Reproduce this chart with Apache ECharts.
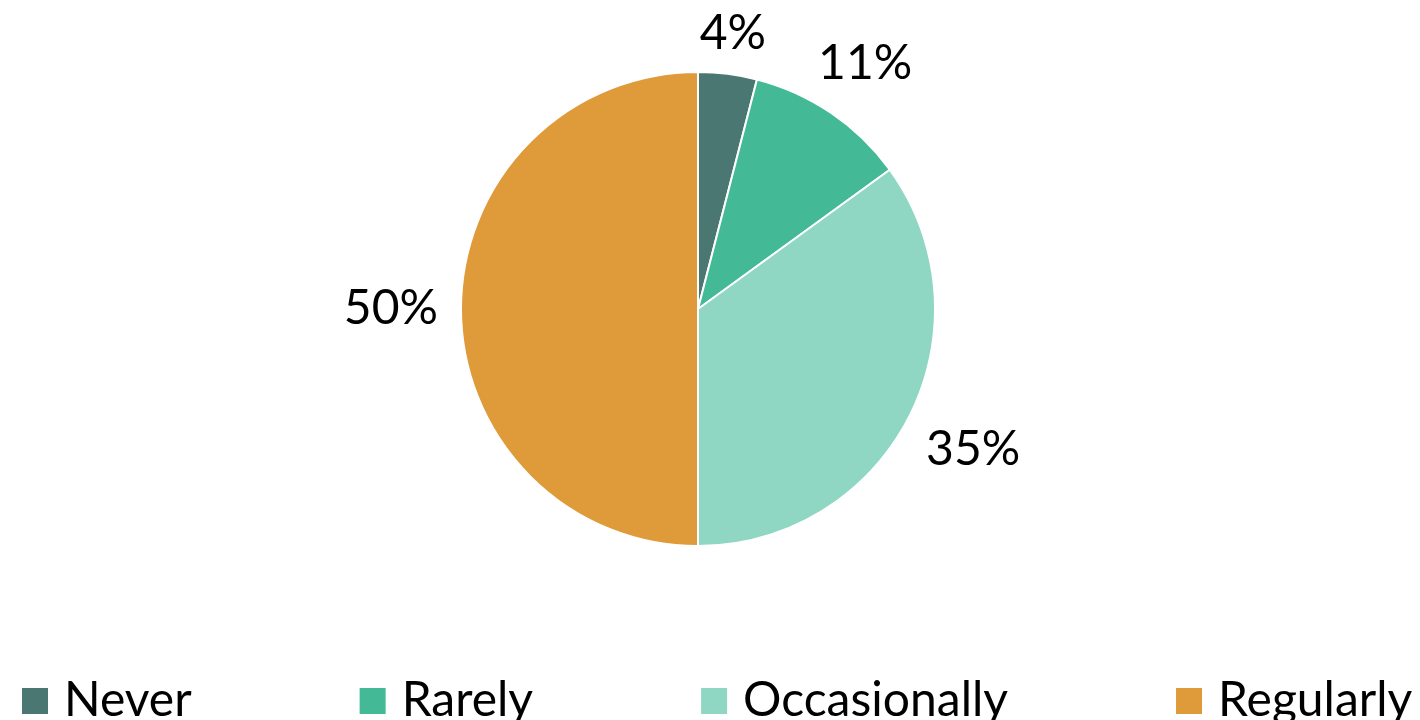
<!DOCTYPE html>
<html>
<head>
<meta charset="utf-8">
<style>
  html, body { margin: 0; padding: 0; background: #ffffff; }
  #chart { width: 1420px; height: 720px; }
</style>
<script src="https://cdn.jsdelivr.net/npm/echarts@6/dist/echarts.min.js"></script>
</head>
<body>
<div id="chart"></div>
<script>
// Survey answers: how often respondents do it
const categories = ['Never', 'Rarely', 'Occasionally', 'Regularly'];
const shares = [4, 11, 35, 50];
const colors = ['#4B7773', '#43B996', '#8FD7C3', '#DF9A3A'];

const center = [698, 309];
const radius = 237;
const labelClearance = 260; // distance from centre to nearest point of a value label
const FONT = 'Lato, "Open Sans", sans-serif';

const chart = echarts.init(document.getElementById('chart'));
const total = shares.reduce((a, b) => a + b, 0);

// middle angle (degrees, counter-clockwise from +x) of each slice, clockwise from 12 o'clock
const midAngles = [];
let acc = 0;
shares.forEach(v => {
  midAngles.push(90 - (acc + v / 2) / total * 360);
  acc += v;
});

// push a box of half sizes (hw, hh) outward along (c, s) until its nearest point reaches dist
function pushOut(c, s, hw, hh, dist) {
  let lo = 0, hi = 1000;
  for (let k = 0; k < 40; k++) {
    const d = (lo + hi) / 2;
    const x = Math.max(0, Math.abs(d * c) - hw);
    const y = Math.max(0, Math.abs(d * s) - hh);
    if (Math.hypot(x, y) < dist) lo = d; else hi = d;
  }
  return (lo + hi) / 2;
}

chart.setOption({
  backgroundColor: '#ffffff',
  animation: false,
  color: colors,
  legend: {
    data: categories,
    left: 15,
    top: 672,
    itemWidth: 28,
    itemHeight: 28,
    itemGap: 166,
    icon: 'rect',
    textStyle: {
      fontFamily: FONT,
      fontSize: 48,
      color: '#000000',
      padding: [0, 0, 0, 10]
    }
  },
  series: [{
    type: 'pie',
    center: center,
    radius: radius,
    startAngle: 90,
    clockwise: true,
    avoidLabelOverlap: false,
    data: categories.map((name, i) => ({ name: name, value: shares[i] })),
    itemStyle: { borderColor: '#ffffff', borderWidth: 2 },
    label: {
      show: true,
      position: 'outside',
      formatter: p => p.value + '%',
      fontFamily: FONT,
      fontSize: 48,
      color: '#000000'
    },
    labelLine: { show: false },
    // place each value label just outside the rim, along its slice's middle direction
    labelLayout: params => {
      const a = midAngles[params.dataIndex] * Math.PI / 180;
      const c = Math.cos(a), s = Math.sin(a);
      const hw = params.labelRect.width / 2;
      const hh = params.labelRect.height * 0.32;
      const d = pushOut(c, s, hw, hh, labelClearance);
      return {
        x: center[0] + d * c,
        y: center[1] - d * s,
        align: 'center',
        verticalAlign: 'middle'
      };
    }
  }]
});
</script>
</body>
</html>
